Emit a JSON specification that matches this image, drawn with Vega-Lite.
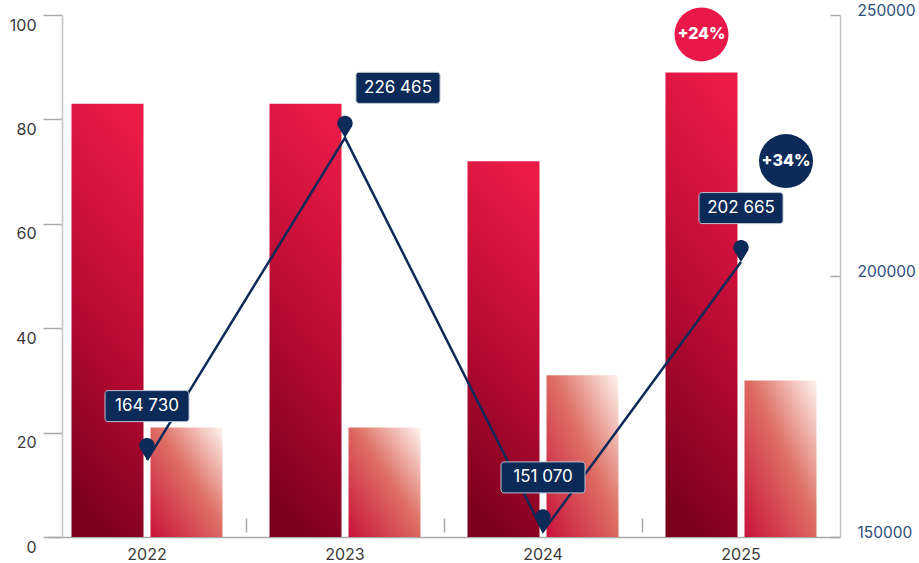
{
  "$schema": "https://vega.github.io/schema/vega-lite/v6.json",
  "width": 792,
  "height": 522,
  "autosize": {"type": "none"},
  "padding": {"left": 48, "top": 15, "right": 79, "bottom": 26},
  "config": {"view": {"stroke": null}, "font": "Inter", "axis": {"grid": false}},
  "datasets": {
    "bars": [
      {"year": "2022", "series": "Dark", "value": 83},
      {"year": "2022", "series": "Light", "value": 21},
      {"year": "2023", "series": "Dark", "value": 83},
      {"year": "2023", "series": "Light", "value": 21},
      {"year": "2024", "series": "Dark", "value": 72},
      {"year": "2024", "series": "Light", "value": 31},
      {"year": "2025", "series": "Dark", "value": 89},
      {"year": "2025", "series": "Light", "value": 30}
    ],
    "line": [
      {"year": "2022", "total": 164730, "label": "164 730"},
      {"year": "2023", "total": 226465, "label": "226 465"},
      {"year": "2024", "total": 151070, "label": "151 070"},
      {"year": "2025", "total": 202665, "label": "202 665"}
    ],
    "badgeBar": [
      {"year": "2025", "series": "Dark", "value": 89, "change": "+24%"}
    ],
    "badgeLine": [
      {"year": "2025", "total": 202665, "change": "+34%"}
    ]
  },
  "layer": [
    {
      "data": {"name": "bars"},
      "encoding": {
        "x": {
          "field": "year", "type": "nominal",
          "scale": {"paddingInner": 0, "paddingOuter": 0},
          "axis": {
            "title": null, "labelAngle": 0, "ticks": false,
            "domainColor": "#a8a8a8", "domainWidth": 1.5,
            "labelFont": "Inter", "labelFontSize": 16, "labelColor": "#3a3a3a",
            "labelPadding": 9, "labelBaseline": "top"
          }
        },
        "y": {
          "field": "value", "type": "quantitative",
          "scale": {"domain": [0, 100]},
          "axis": {
            "title": null, "values": [0, 20, 40, 60, 80, 100], "offset": -14,
            "tickSize": 19, "tickColor": "#a8a8a8", "tickWidth": 1.5,
            "domainColor": "#c4c4c4", "domainWidth": 1.5,
            "labelFont": "Inter", "labelFontSize": 16, "labelColor": "#3a3a3a",
            "labelPadding": 7, "labelBaseline": "top", "labelOffset": 2
          }
        }
      },
      "layer": [
        {
          "transform": [{"filter": "datum.series == 'Dark'"}],
          "mark": {
            "type": "bar",
            "color": {
              "gradient": "linear", "x1": 0.6, "y1": 0, "x2": 0.4, "y2": 1,
              "stops": [
                {"offset": 0, "color": "#EA1B47"},
                {"offset": 0.5, "color": "#BC0B35"},
                {"offset": 1, "color": "#7A001C"}
              ]
            }
          },
          "encoding": {
            "xOffset": {"field": "series", "type": "nominal", "scale": {"domain": ["Dark", "Light"], "paddingInner": 0.0886, "paddingOuter": 0.2975}}
          }
        },
        {
          "transform": [{"filter": "datum.series == 'Light'"}],
          "mark": {
            "type": "bar",
            "color": {
              "gradient": "linear", "x1": 1, "y1": 0, "x2": 0, "y2": 1,
              "stops": [
                {"offset": 0, "color": "#FFF4F0"},
                {"offset": 0.45, "color": "#DE7065"},
                {"offset": 1, "color": "#C8123A"}
              ]
            }
          },
          "encoding": {
            "xOffset": {"field": "series", "type": "nominal", "scale": {"domain": ["Dark", "Light"], "paddingInner": 0.0886, "paddingOuter": 0.2975}}
          }
        },
        {
          "data": {"name": "badgeBar"},
          "mark": {"type": "point", "shape": "circle", "filled": true, "size": 2916, "color": "#E8194A", "opacity": 1, "yOffset": -38},
          "encoding": {
            "xOffset": {"field": "series", "type": "nominal", "scale": {"domain": ["Dark", "Light"], "paddingInner": 0.0886, "paddingOuter": 0.2975}}
          }
        },
        {
          "data": {"name": "badgeBar"},
          "mark": {"type": "text", "color": "white", "font": "Inter", "fontSize": 16, "fontWeight": 800, "align": "center", "baseline": "middle", "yOffset": -38},
          "encoding": {
            "text": {"field": "change"},
            "xOffset": {"field": "series", "type": "nominal", "scale": {"domain": ["Dark", "Light"], "paddingInner": 0.0886, "paddingOuter": 0.2975}}
          }
        }
      ]
    },
    {
      "data": {"name": "line"},
      "encoding": {
        "x": {
          "field": "year", "type": "nominal",
          "scale": {"paddingInner": 0, "paddingOuter": 0},
          "axis": {
            "title": null, "orient": "bottom", "domain": false, "labels": false,
            "bandPosition": 0, "offset": -19, "tickSize": 14,
            "tickColor": "#a8a8a8", "tickWidth": 1.5,
            "tickOpacity": {"condition": {"test": "datum.value === '2022'", "value": 0}, "value": 1}
          }
        },
        "y": {
          "field": "total", "type": "quantitative",
          "scale": {"domain": [150000, 250000]},
          "axis": {
            "title": null, "orient": "right", "values": [150000, 200000, 250000], "format": "d",
            "tickSize": -10, "tickColor": "#a8a8a8", "tickWidth": 1.5,
            "domainColor": "#c4c4c4", "domainWidth": 1.5,
            "labelFont": "Inter", "labelFontSize": 15.5, "labelColor": "#2C4C7E",
            "labelPadding": 27, "labelBaseline": "alphabetic"
          }
        }
      },
      "layer": [
        {"mark": {"type": "line", "color": "#0B2A57", "strokeWidth": 2.5}},
        {"mark": {"type": "point", "shape": "M0,0 L-0.68,-1.1 A0.75,0.75 0 1,1 0.68,-1.1 Z", "size": 420, "filled": true, "color": "#0B2A57", "opacity": 1}},
        {
          "transform": [{"filter": "datum.year != '2023'"}],
          "mark": {"type": "point", "shape": "M-1.95,-0.775 L1.95,-0.775 A0.15,0.15 0 0 1 2.1,-0.625 L2.1,0.625 A0.15,0.15 0 0 1 1.95,0.775 L-1.95,0.775 A0.15,0.15 0 0 1 -2.1,0.625 L-2.1,-0.625 A0.15,0.15 0 0 1 -1.95,-0.775 Z", "size": 1600, "filled": true, "fill": "#0B2A57", "stroke": "#b8c2d2", "strokeWidth": 1, "opacity": 1, "yOffset": -54}
        },
        {
          "transform": [{"filter": "datum.year != '2023'"}],
          "mark": {"type": "text", "color": "white", "font": "Inter", "fontSize": 17, "align": "center", "baseline": "middle", "yOffset": -54},
          "encoding": {"text": {"field": "label"}}
        },
        {
          "transform": [{"filter": "datum.year == '2023'"}],
          "mark": {"type": "point", "shape": "M-1.95,-0.775 L1.95,-0.775 A0.15,0.15 0 0 1 2.1,-0.625 L2.1,0.625 A0.15,0.15 0 0 1 1.95,0.775 L-1.95,0.775 A0.15,0.15 0 0 1 -2.1,0.625 L-2.1,-0.625 A0.15,0.15 0 0 1 -1.95,-0.775 Z", "size": 1600, "filled": true, "fill": "#0B2A57", "stroke": "#b8c2d2", "strokeWidth": 1, "opacity": 1, "xOffset": 53, "yOffset": -50}
        },
        {
          "transform": [{"filter": "datum.year == '2023'"}],
          "mark": {"type": "text", "color": "white", "font": "Inter", "fontSize": 17, "align": "center", "baseline": "middle", "xOffset": 53, "yOffset": -50},
          "encoding": {"text": {"field": "label"}}
        },
        {
          "data": {"name": "badgeLine"},
          "mark": {"type": "point", "shape": "circle", "filled": true, "size": 2916, "color": "#0B2A57", "opacity": 1, "xOffset": 45, "yOffset": -101}
        },
        {
          "data": {"name": "badgeLine"},
          "mark": {"type": "text", "color": "white", "font": "Inter", "fontSize": 16, "fontWeight": 800, "align": "center", "baseline": "middle", "xOffset": 45, "yOffset": -101},
          "encoding": {"text": {"field": "change"}}
        }
      ]
    }
  ],
  "resolve": {"scale": {"y": "independent"}, "axis": {"x": "independent"}}
}
